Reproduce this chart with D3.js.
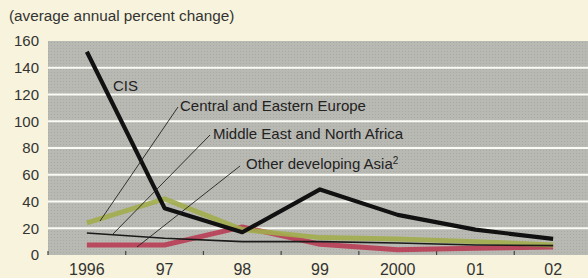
<!DOCTYPE html>
<html>
<head>
<meta charset="utf-8">
<script src="https://cdn.jsdelivr.net/npm/d3@7"></script>
<style>
  body { margin: 0; background: #f7f3dc; }
  svg { display: block; font-family: "Liberation Sans", Arial, sans-serif; }
</style>
</head>
<body>
<svg id="chart" width="588" height="278"></svg>
<script>
const years = ["1996", "97", "98", "99", "2000", "01", "02"];
const yTicks = [0, 20, 40, 60, 80, 100, 120, 140, 160];

const cis = [152, 35, 17, 49, 30, 19, 12];
const centralEurope = [24, 42, 19, 13, 12, 10, 7.5];
const middleEast = [16.5, 12.5, 10, 10, 9, 7.5, 7];
const otherAsia = [7.5, 7.5, 21, 8, 4, 5, 6];

const series = [
  { name: "Other developing Asia", values: otherAsia, color: "#b8354f", width: 5, opacity: 0.85 },
  { name: "Central and Eastern Europe", values: centralEurope, color: "#a2ad4c", width: 5, opacity: 0.9 },
  { name: "Middle East and North Africa", values: middleEast, color: "#1a1a1a", width: 1.6, opacity: 1 },
  { name: "CIS", values: cis, color: "#111", width: 4.2, opacity: 1 },
];

// labels: text position + leader line toward a point on the series
const labels = [
  { text: "CIS", x: 113, y: 91, leader: null },
  { text: "Central and Eastern Europe", x: 180, y: 111, leader: [[178, 107], [100, 221]] },
  { text: "Middle East and North Africa", x: 213, y: 139, leader: [[210, 135], [112, 235]] },
  { text: "Other developing Asia", sup: "2", x: 246, y: 169, leader: [[240, 166], [137, 247]] },
];

const svg = d3.select("svg#chart");
const margin = { left: 48, top: 41, right: -4, bottom: 23 };
const W = 588, H = 278;

const x = d3.scaleBand().domain(years).range([margin.left, W - margin.right]).padding(0);
const y = d3.scaleLinear().domain([0, 160]).range([255, margin.top]);

// title
svg.append("text")
  .attr("x", 9).attr("y", 21)
  .attr("font-size", 15.3).attr("fill", "#333")
  .text("(average annual percent change)");

// plot background with a fine dot texture
const defs = svg.append("defs");
const pat = defs.append("pattern")
  .attr("id", "dots").attr("width", 3).attr("height", 3)
  .attr("patternUnits", "userSpaceOnUse");
pat.append("rect").attr("width", 3).attr("height", 3).attr("fill", "#b9b9b3");
pat.append("rect").attr("width", 1).attr("height", 1).attr("fill", "#aaaaa4");

svg.append("rect")
  .attr("x", margin.left).attr("y", y(160))
  .attr("width", W - margin.left).attr("height", y(0) - y(160))
  .attr("fill", "url(#dots)");

// white gridlines
svg.append("g")
  .selectAll("line")
  .data(yTicks.filter((d) => d > 0 && d < 160))
  .join("line")
  .attr("x1", margin.left).attr("x2", W)
  .attr("y1", (d) => y(d)).attr("y2", (d) => y(d))
  .attr("stroke", "#fbfbf6").attr("stroke-width", 2);

// y axis labels
const yAxis = svg.append("g")
  .attr("transform", `translate(${margin.left},0)`)
  .call(d3.axisLeft(y).tickValues(yTicks).tickSize(0).tickPadding(9));
yAxis.select(".domain").remove();
yAxis.selectAll("text").attr("font-size", 15).attr("fill", "#333")
  .attr("font-family", "'Liberation Sans', Arial, sans-serif");

// x axis: ticks on band edges, labels centered
const xAxis = svg.append("g")
  .attr("transform", `translate(0,${y(0)})`);
xAxis.selectAll("line")
  .data(years)
  .join("line")
  .attr("x1", (d) => x(d)).attr("x2", (d) => x(d))
  .attr("y1", -4).attr("y2", 0)
  .attr("stroke", "#444").attr("stroke-width", 1.2);
xAxis.selectAll("text")
  .data(years)
  .join("text")
  .attr("x", (d) => x(d) + x.bandwidth() / 2)
  .attr("y", 20)
  .attr("text-anchor", "middle")
  .attr("font-size", 16).attr("fill", "#333")
  .text((d) => d);

// series lines
const line = d3.line()
  .x((d, i) => x(years[i]) + x.bandwidth() / 2)
  .y((d) => y(d));

svg.append("g")
  .selectAll("path")
  .data(series)
  .join("path")
  .attr("d", (d) => line(d.values))
  .attr("fill", "none")
  .attr("stroke", (d) => d.color)
  .attr("stroke-width", (d) => d.width)
  .attr("stroke-opacity", (d) => d.opacity)
  .attr("stroke-linejoin", "round")
  .attr("stroke-linecap", "butt");

// leader lines
svg.append("g")
  .selectAll("path")
  .data(labels.filter((d) => d.leader))
  .join("path")
  .attr("d", (d) => d3.line()(d.leader))
  .attr("stroke", "#222").attr("stroke-width", 0.9).attr("fill", "none");

// series labels
const labelText = svg.append("g")
  .selectAll("text")
  .data(labels)
  .join("text")
  .attr("x", (d) => d.x).attr("y", (d) => d.y)
  .attr("font-size", 15).attr("fill", "#222")
  .text((d) => d.text);
labelText.filter((d) => d.sup)
  .append("tspan")
  .attr("dy", -5).attr("font-size", 10)
  .text((d) => d.sup);
</script>
</body>
</html>
